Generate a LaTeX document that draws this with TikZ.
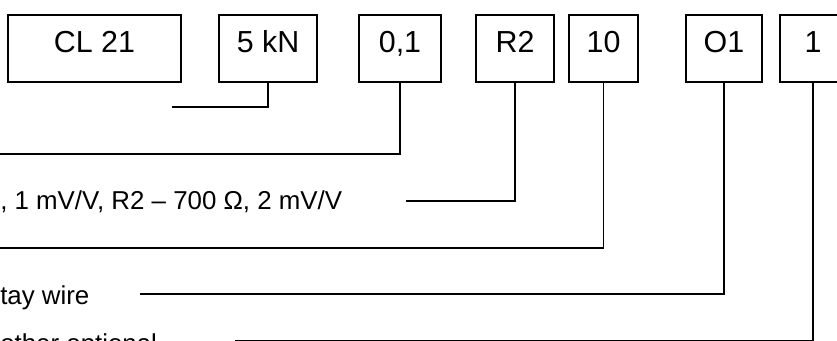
\documentclass[tikz,border=0pt]{standalone}
\usepackage{fontspec}
\setmainfont{Liberation Sans}
\usetikzlibrary{positioning}

\tikzset{
  codebox/.style={draw, line width=1pt, inner sep=0pt, text height=28.5pt, text depth=21.75pt,
    font=\fontsize{22.8}{26}\selectfont, minimum width=#1*0.75pt},
  lead/.style={draw, line width=1pt},
  desc/.style={inner sep=0pt, anchor=base west, font=\fontsize{19.4}{22}\selectfont},
}

\begin{document}
\begin{tikzpicture}[x=0.75pt, y=-0.75pt]
    \useasboundingbox (0,0) rectangle (837,341);
    \clip (0,0) rectangle (837,341);
    % code boxes
    \node[codebox=173] (cl) at (94.5,48.5) {CL 21};
    \node[codebox=98] (force) at (268,48.5) {5 kN};
    \node[codebox=82] (acc) at (400,48.5) {0,1};
    \node[codebox=78] (bridge) at (515,48.5) {R2};
    \node[codebox=69] (cable) at (603.5,48.5) {10};
    \node[codebox=76] (opt) at (724,48.5) {O1};
    \node[codebox=66] (extra) at (813,48.5) {1};
    % descriptions
    \node[desc] (bridgetxt) at (0,210) {, 1 mV/V, R2 – 700 Ω, 2 mV/V};
    \node[desc] (opttxt) at (0,305) {tay wire};
    \node[desc] (extratxt) at (0,352) {other optional};
    % leader ends
    \coordinate (forceend) at (172,107);
    \coordinate (accend) at (-5,154);
    \coordinate (bridgeend) at (406,201);
    \coordinate (cableend) at (-5,248);
    \coordinate (optend) at (140,294);
    \coordinate (extraend) at (235,340.5);
    % leaders
    \draw[lead] (force.south) |- (forceend);
    \draw[lead] (acc.south) |- (accend);
    \draw[lead] (bridge.south) |- (bridgeend);
    \draw[lead] (cable.south) |- (cableend);
    \draw[lead] (opt.south) |- (optend);
    \draw[lead] (extra.south) |- (extraend);
\end{tikzpicture}
\end{document}
